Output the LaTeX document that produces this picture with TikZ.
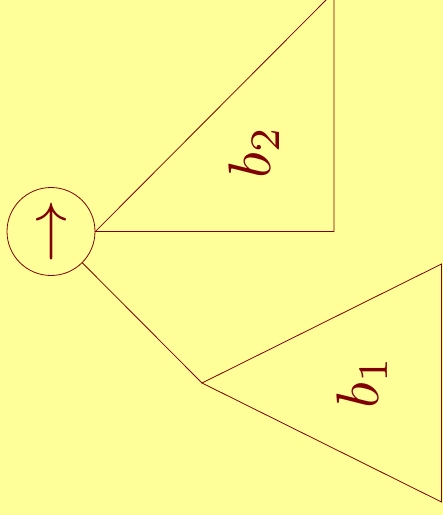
\documentclass[tikz,border=0pt]{standalone}
\usepackage{graphicx}
\definecolor{bg}{RGB}{255,255,153}
\definecolor{ink}{RGB}{128,0,0}
\begin{document}
\begin{tikzpicture}[x=1pt,y=-1pt,line width=0.8pt,
  edge/.style={draw=ink},
  lbl/.style={text=ink,inner sep=0pt}]
\fill[bg] (0,0) rectangle (443,515);
\useasboundingbox (0,0) rectangle (443,515);
\clip (0,0) rectangle (443,515);
\node[circle,draw=ink,minimum size=88pt,inner sep=0pt,text=ink] (r) at (51,231.5) {\scalebox{6.4}{$\uparrow$}};
\coordinate (a2) at (r.east);
\coordinate (t2) at (334,-8);
\coordinate (u2) at (334,231.5);
\coordinate (a1) at (202,383);
\coordinate (t1) at (441.5,264);
\coordinate (u1) at (441.5,502);
\draw[edge] (a2) -- (t2) -- (u2) -- cycle;
\draw[edge] (r.-45) -- (a1);
\draw[edge] (a1) -- (t1) -- (u1) -- cycle;
\node[lbl] (b2) at (254,152) {\rotatebox{90}{\scalebox{6.0}{$b_2$}}};
\node[lbl] (b1) at (362,382) {\rotatebox{90}{\scalebox{6.0}{$b_1$}}};
\end{tikzpicture}
\end{document}
